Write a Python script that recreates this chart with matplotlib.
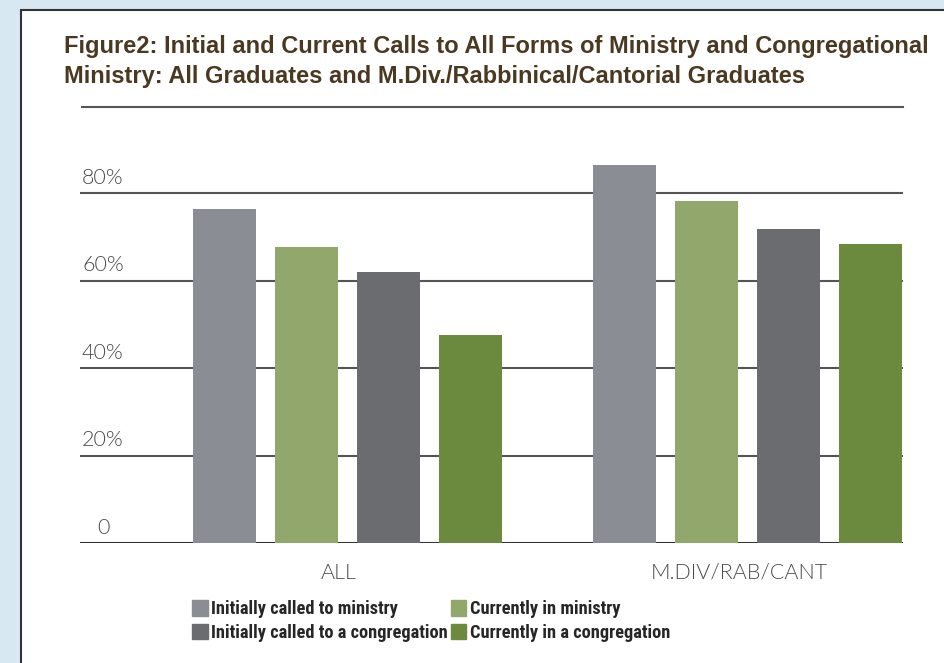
import numpy as np
import matplotlib.pyplot as plt
from matplotlib.patches import Rectangle
from matplotlib.lines import Line2D

# data (percent)
groups = ['ALL', 'M.DIV/RAB/CANT']
series = ['Initially called to ministry', 'Currently in ministry',
          'Initially called to a congregation', 'Currently in a congregation']
init_ministry = [76.3, 86.4]
curr_ministry = [67.7, 78.2]
init_congregation = [61.9, 71.8]
curr_congregation = [47.5, 68.3]
yticks = [0, 20, 40, 60, 80]
ytick_labels = ['0', '20%', '40%', '60%', '80%']

colors = ['#8a8d93', '#92a76b', '#6b6c70', '#6b8a3e']
values = [init_ministry, curr_ministry, init_congregation, curr_congregation]

W, H = 944, 663
fig = plt.figure(figsize=(W / 100, H / 100), dpi=100)
fig.patch.set_facecolor('#d7e8f3')

# white panel with dark border
fig.patches.append(Rectangle((21 / W, -0.01), 1.0, 1 - 10 / H + 0.01,
                             transform=fig.transFigure, facecolor='white',
                             edgecolor='#333333', linewidth=1.5, zorder=-5))

title_font = ['Liberation Sans', 'DejaVu Sans']
fig.text(64 / W, 1 - 47 / H,
         'Figure2: Initial and Current Calls to All Forms of Ministry and Congregational',
         fontsize=17.0, fontweight='bold', color='#4a3821', family=title_font,
         va='center', ha='left')
fig.text(64 / W, 1 - 76 / H,
         'Ministry: All Graduates and M.Div./Rabbinical/Cantorial Graduates',
         fontsize=17.0, fontweight='bold', color='#4a3821', family=title_font,
         va='center', ha='left')
fig.add_artist(Line2D([82 / W, 903 / W], [1 - 107 / H, 1 - 107 / H],
                      transform=fig.transFigure, color='#555555', linewidth=1.5))

ax_left, ax_right = 80 / W, 903 / W
ax_bottom, ax_top = 1 - 543 / H, 1 - 107 / H
ax = fig.add_axes([ax_left, ax_bottom, ax_right - ax_left, ax_top - ax_bottom])
ax.set_facecolor('none')
ax.set_zorder(2)

x = np.arange(len(groups))
step = 0.2047
width = 0.157
for i, (vals, c) in enumerate(zip(values, colors)):
    ax.bar(x + (i - 1.5) * step, vals, width, color=c, zorder=3, label=series[i])

label_font = dict(family=['Lato', 'DejaVu Sans'], fontweight=300, fontsize=15.5,
                  color='#4a4a4a')
ax.set_xlim(-0.667, 1.388)
ax.set_ylim(0, 99.7)
for yv, lab in zip(yticks, ytick_labels):
    ax.axhline(yv, color='#333333' if yv == 0 else '#555555', linewidth=1.5, zorder=2)
    ax.text(-0.662 if yv else -0.625, yv + 1.2, lab, va='bottom', ha='left', **label_font)
for s in ax.spines.values():
    s.set_visible(False)
ax.set_xticks([])
ax.set_yticks([])
for xi, g in zip(x, groups):
    ax.text(xi - 0.02, -4.5, g, va='top', ha='center', **label_font)

handles = [Rectangle((0, 0), 1, 1, color=c) for c in colors]
order = [0, 2, 1, 3]
fig.legend([handles[i] for i in order], [series[i] for i in order],
           ncol=2, loc='center left', bbox_to_anchor=(183 / W, 1 - 621 / H),
           frameon=False, handlelength=0.85, handleheight=0.9, handletextpad=0.2,
           columnspacing=0.15, labelspacing=0.3, borderpad=0,
           prop={'family': 'Roboto Condensed', 'weight': 'bold', 'size': 13.2})
for t in fig.legends[0].get_texts():
    t.set_color('#262626')

fig.savefig('out.png', dpi=100, facecolor=fig.get_facecolor())
